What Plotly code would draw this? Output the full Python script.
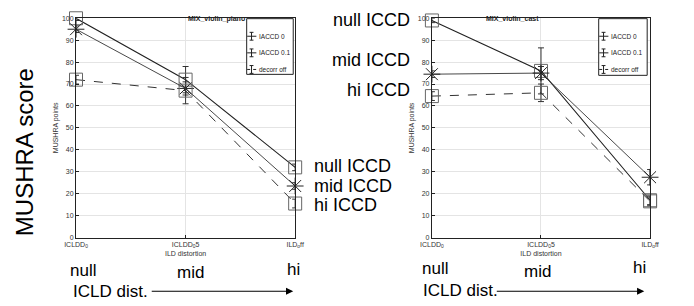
import plotly.graph_objects as go

# ---------------- data ----------------
categories = ["ICLDD<sub>0</sub>", "ICLDD<sub>0</sub>5", "ILD<sub>o</sub>ff"]
series_names = ["IACCD 0", "IACCD 0.1", "decorr off"]

piano_iaccd0 = [100, 72, 32]
piano_iaccd0_err = [1, 6, 1.5]
piano_iaccd01 = [95, 68, 23.5]
piano_iaccd01_err = [1.5, 3, 1.5]
piano_decorr = [72, 67, 15.5]
piano_decorr_err = [2, 6, 2]

cast_iaccd0 = [99, 76, 17]
cast_iaccd0_err = [1, 10.5, 2]
cast_iaccd01 = [74.5, 75, 27.5]
cast_iaccd01_err = [1.5, 3, 3.5]
cast_decorr = [64.5, 66, 16.5]
cast_decorr_err = [2, 4, 2]

titles = ["MIX_violin_piano", "MIX_violin_cast"]
yticks = list(range(0, 101, 10))

# ---------------- styles ----------------
W, H = 694, 306
FONT = "Liberation Sans, Arial"
line_styles = [dict(color="#222", width=1.1, dash="solid"),
               dict(color="#333", width=0.9, dash="solid"),
               dict(color="#333", width=1, dash="dash")]
marker_styles = [dict(symbol="square-open", size=13, color="#666", line=dict(width=1)),
                 dict(symbol="asterisk-open", size=14, color="#222", line=dict(width=1)),
                 dict(symbol="square-open", size=13, color="#666", line=dict(width=1))]

fig = go.Figure()

panels = [
    ("x", "y", [piano_iaccd0, piano_iaccd01, piano_decorr],
     [piano_iaccd0_err, piano_iaccd01_err, piano_decorr_err]),
    ("x2", "y2", [cast_iaccd0, cast_iaccd01, cast_decorr],
     [cast_iaccd0_err, cast_iaccd01_err, cast_decorr_err]),
]

for xa, ya, vals, errs in panels:
    for i in range(3):
        fig.add_trace(go.Scatter(
            x=categories, y=vals[i], xaxis=xa, yaxis=ya, name=series_names[i],
            mode="lines+markers", line=line_styles[i], marker=marker_styles[i],
            error_y=dict(type="data", array=errs[i], visible=True, color="#333",
                         thickness=1, width=3),
            showlegend=False, cliponaxis=False, hoverinfo="skip"))

L_DOM = [66 / W, 292 / W]
R_DOM = [433 / W, 658 / W]
Y_DOM = [1 - 239 / H, 1 - 14.6 / H]

axis_common = dict(showline=True, linecolor="#222", linewidth=1, mirror=True,
                   showgrid=True, gridcolor="#e4e4e4", gridwidth=1,
                   ticks="inside", ticklen=3, tickcolor="#222",
                   tickfont=dict(family=FONT, size=7, color="#333"),
                   zeroline=False)

for xk, yk, dom, anchor_x, anchor_y in [("xaxis", "yaxis", L_DOM, "y", "x"),
                                        ("xaxis2", "yaxis2", R_DOM, "y2", "x2")]:
    fig.layout[xk] = dict(axis_common, domain=dom, anchor=anchor_x, type="category",
                          range=[0, 2],
                          title=dict(text="ILD distortion", standoff=2,
                                     font=dict(family=FONT, size=7, color="#333")))
    fig.layout[yk] = dict(axis_common, domain=Y_DOM, anchor=anchor_y, range=[0, 100],
                          tickvals=yticks,
                          title=dict(text="MUSHRA points", standoff=2,
                                     font=dict(family=FONT, size=7, color="#333")))

annots = []
shapes = []

def px(x):
    return x / W

def py(y):
    return 1 - y / H

# ---- legends (drawn as boxes with glyphs + text) ----
legend_boxes = [(242, 290, 15, 72), (605, 655, 15, 73)]
entry_y = [33, 50, 67]
legend_dash = ["solid", "solid", "dot"]
for (x0, x1, y0, y1) in legend_boxes:
    shapes.append(dict(type="rect", xref="paper", yref="paper",
                       x0=px(x0), x1=px(x1), y0=py(y1), y1=py(y0),
                       line=dict(color="#222", width=1), fillcolor="white", layer="above"))
    for name, ey, dsh in zip(series_names, entry_y, legend_dash):
        gx0, gx1, gc = x0 + 0.5, x0 + 10, x0 + 5
        shapes.append(dict(type="line", xref="paper", yref="paper",
                           x0=px(gx0), x1=px(gx1), y0=py(ey), y1=py(ey),
                           line=dict(color="#222", width=1, dash=dsh), layer="above"))
        shapes.append(dict(type="line", xref="paper", yref="paper",
                           x0=px(gc), x1=px(gc), y0=py(ey - 4), y1=py(ey + 4),
                           line=dict(color="#222", width=1), layer="above"))
        for cy in (ey - 4, ey + 4):
            shapes.append(dict(type="line", xref="paper", yref="paper",
                               x0=px(gc - 2), x1=px(gc + 2), y0=py(cy), y1=py(cy),
                               line=dict(color="#222", width=1), layer="above"))
        annots.append(dict(text=name, x=px(x0 + 11), y=py(ey), xref="paper", yref="paper",
                           showarrow=False, xanchor="left", yanchor="middle",
                           font=dict(family=FONT, size=6.5, color="#222")))

for t, dom in zip(titles, [L_DOM, R_DOM]):
    annots.append(dict(text="<b>" + t + "</b>", x=(dom[0] + dom[1]) / 2, y=py(9),
                       xref="paper", yref="paper", showarrow=False,
                       font=dict(family=FONT, size=7, color="#222")))

def ann(text, x, y, xanchor="center", size=17, angle=0):
    annots.append(dict(text=text, x=px(x), y=py(y), xref="paper", yref="paper",
                       showarrow=False, xanchor=xanchor, yanchor="middle", textangle=angle,
                       font=dict(family=FONT, size=size, color="black")))

ann("MUSHRA score", 13, 152, size=24, angle=-90)
ann("null ICCD", 309, 166, xanchor="left", size=18)
ann("mid ICCD", 309, 186, xanchor="left", size=18)
ann("hi ICCD", 309, 206, xanchor="left", size=18)
ann("null ICCD", 412, 16, xanchor="right", size=18)
ann("mid ICCD", 412, 57, xanchor="right", size=18)
ann("hi ICCD", 412, 88, xanchor="right", size=18)
ann("null", 73, 273)
ann("mid", 184, 275)
ann("hi", 290, 272)
ann("ICLD dist.", 61, 294, xanchor="left")
ann("null", 436, 271)
ann("mid", 542, 274)
ann("hi", 647, 270)
ann("ICLD dist.", 422, 293, xanchor="left")

for x0, x1, yy in [(147, 290, 294), (503, 652, 294)]:
    annots.append(dict(x=px(x1), y=py(yy), xref="paper", yref="paper",
                       ax=-(x1 - x0), ay=0, axref="pixel", ayref="pixel", text="",
                       showarrow=True, arrowhead=2, arrowsize=1.2, arrowwidth=1.2,
                       arrowcolor="black"))

fig.update_layout(annotations=annots, shapes=shapes, width=W, height=H,
                  margin=dict(l=0, r=0, t=0, b=0),
                  paper_bgcolor="white", plot_bgcolor="white", showlegend=False)

fig.write_html("out.html", config={"displayModeBar": False},
               post_script="document.body.style.margin='0';document.body.style.overflow='hidden';")
